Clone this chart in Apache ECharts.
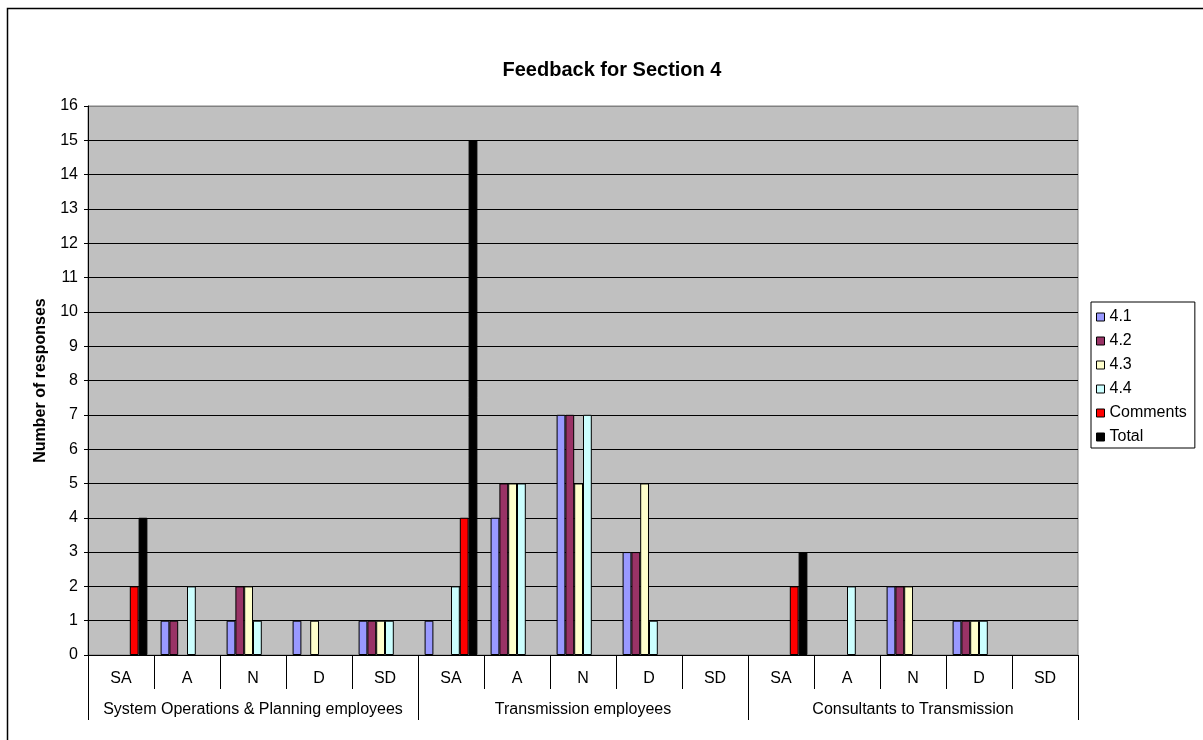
<!DOCTYPE html>
<html>
<head>
<meta charset="utf-8">
<script src="https://cdn.jsdelivr.net/npm/echarts@6/dist/echarts.min.js"></script>
<style>html,body{margin:0;padding:0;background:#fff;}#c{width:1203px;height:740px;}</style>
</head>
<body>
<div id="c"></div>
<script>
const categories = ['SA','A','N','D','SD','SA','A','N','D','SD','SA','A','N','D','SD'];
const groups = ['System Operations & Planning employees','Transmission employees','Consultants to Transmission'];
const s41 = [0,1,1,1,1, 1,4,7,3,0, 0,0,2,1,0];
const s42 = [0,1,2,0,1, 0,5,7,3,0, 0,0,2,1,0];
const s43 = [0,0,2,1,1, 0,5,5,5,0, 0,0,2,1,0];
const s44 = [0,2,1,0,1, 2,5,7,1,0, 0,2,0,1,0];
const sComments = [2,0,0,0,0, 4,0,0,0,0, 2,0,0,0,0];
const sTotal = [4,0,0,0,0, 15,0,0,0,0, 3,0,0,0,0];
const seriesNames = ['4.1','4.2','4.3','4.4','Comments','Total'];
const seriesData = [s41,s42,s43,s44,sComments,sTotal];
const colors = ['#9999FF','#993366','#FFFFCC','#CCFFFF','#FF0000','#000000'];
const yTicks = {min:0, max:16, interval:1};

const font = 'Liberation Sans, Arial, sans-serif';
const chart = echarts.init(document.getElementById('c'), null, {renderer:'canvas'});
const splitColors = [];
for (let i = 0; i <= 16; i++) splitColors.push(i === 16 ? '#808080' : '#000000');

chart.setOption({
  animation: false,
  backgroundColor: '#ffffff',
  title: {
    text: 'Feedback for Section 4',
    left: 607, top: 55, textAlign: 'center',
    textStyle: {fontFamily: font, fontSize: 20, fontWeight: 'bold', color: '#000'}
  },
  graphic: [{
    type: 'polyline', silent: true, z: 100,
    shape: {points: [[7.5, 740], [7.5, 8.5], [1203, 8.5]]},
    style: {fill: 'none', stroke: '#000', lineWidth: 1.5}
  }],
  legend: {
    orient: 'vertical', left: 1091, top: 302,
    data: seriesNames,
    itemWidth: 8, itemHeight: 8, itemGap: 8,
    icon: 'rect',
    padding: [7, 8, 3, 5],
    borderColor: '#000', borderWidth: 1, backgroundColor: '#fff',
    textStyle: {fontFamily: font, fontSize: 16, lineHeight: 16, color: '#000'},
    itemStyle: {borderColor: '#000', borderWidth: 1}
  },
  grid: {
    left: 88, right: 125, top: 106, bottom: 85,
    show: true, backgroundColor: '#C0C0C0', borderColor: '#808080', borderWidth: 1
  },
  xAxis: [{
    type: 'category', data: categories, position: 'bottom',
    axisLine: {show: true, lineStyle: {color: '#000', width: 1}},
    axisTick: {show: true, interval: 0, length: 34, lineStyle: {color: '#000'}},
    axisLabel: {interval: 0, margin: 16, fontFamily: font, fontSize: 16, color: '#000'},
    splitLine: {show: false}
  }, {
    type: 'category', data: groups, position: 'bottom', offset: 34,
    axisLine: {show: false},
    axisTick: {show: true, interval: 0, length: 31, lineStyle: {color: '#000'}},
    axisLabel: {interval: 0, margin: 13, fontFamily: font, fontSize: 16, color: '#000'},
    splitLine: {show: false}
  }],
  yAxis: {
    type: 'value', min: yTicks.min, max: yTicks.max, interval: yTicks.interval,
    name: 'Number of responses', nameLocation: 'middle', nameGap: 39, nameRotate: 90,
    nameTextStyle: {fontFamily: font, fontSize: 16, fontWeight: 'bold', color: '#000'},
    axisLine: {show: true, lineStyle: {color: '#000', width: 1}},
    axisTick: {show: true, length: 4, lineStyle: {color: '#000'}},
    axisLabel: {margin: 10, fontFamily: font, fontSize: 16, color: '#000'},
    splitLine: {show: true, lineStyle: {color: splitColors, width: 1}}
  },
  series: seriesNames.map((n, i) => ({
    name: n, type: 'bar', xAxisIndex: 0,
    data: seriesData[i].map(v => (v === 0 ? null : v)),
    barGap: '0%', barCategoryGap: '20%',
    itemStyle: {color: colors[i], borderColor: '#000', borderWidth: 1}
  }))
});
</script>
</body>
</html>
